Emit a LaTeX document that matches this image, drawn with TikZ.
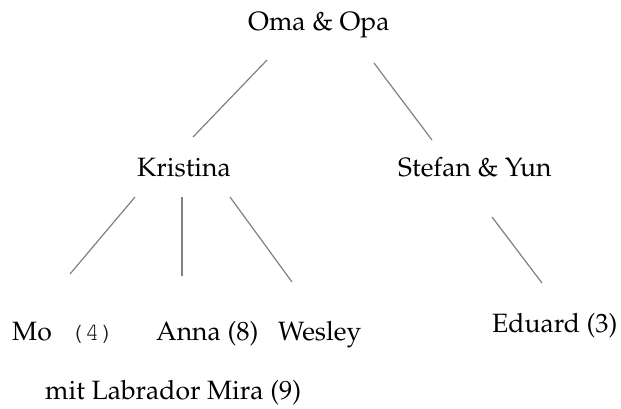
\documentclass[tikz,border=0pt]{standalone}
\usepackage[OT1]{fontenc}
\usepackage{mathpazo}
\begin{document}
\begin{tikzpicture}[x=1pt,y=-1pt,
  lbl/.style={anchor=base west, inner sep=0pt, font=\fontsize{26.5}{30}\selectfont},
  mono/.style={anchor=base west, inner sep=0pt, text=black!90, font=\fontfamily{pcr}\fontsize{25.5}{28}\selectfont},
  edge/.style={draw=black!50, line width=1.2pt}]
\useasboundingbox (0,0) rectangle (621,408);
\node[lbl] (oma) at (248,30) {Oma \& Opa};
\node[lbl] (kristina) at (137,176) {Kristina};
\node[lbl] (stefan) at (398,176) {Stefan \& Yun};
\node[lbl] (mo) at (12,340) {Mo};
\node[mono] (mo4) at (69,340) {(4)};
\node[lbl] (anna) at (156,340) {Anna (8)};
\node[lbl] (wesley) at (278,340) {Wesley};
\node[lbl] (eduard) at (492,332) {Eduard (3)};
\node[lbl] (mira) at (45,399) {mit Labrador Mira (9)};
% connector end points
\coordinate (o1) at (267,60);  \coordinate (k0) at (193,137);
\coordinate (o2) at (374,63);  \coordinate (s0) at (432,140);
\coordinate (k1) at (135,197); \coordinate (m0) at (70,274);
\coordinate (k2) at (182,197); \coordinate (a0) at (182,276);
\coordinate (k3) at (230,197); \coordinate (w0) at (292,282);
\coordinate (s1) at (492,217); \coordinate (e0) at (542,283);
\draw[edge] (o1) -- (k0);
\draw[edge] (o2) -- (s0);
\draw[edge] (k1) -- (m0);
\draw[edge] (k2) -- (a0);
\draw[edge] (k3) -- (w0);
\draw[edge] (s1) -- (e0);
\end{tikzpicture}
\end{document}
